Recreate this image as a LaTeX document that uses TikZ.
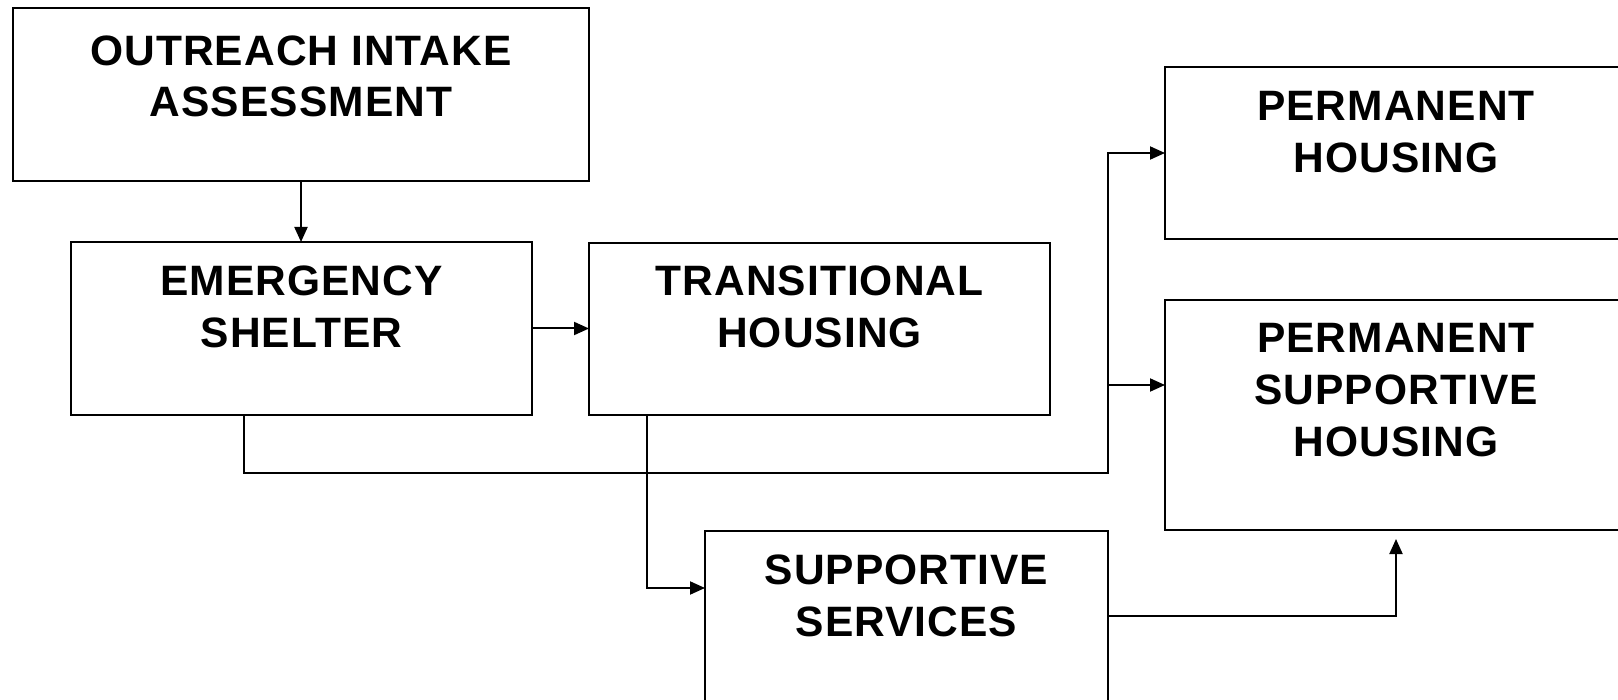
\documentclass[tikz,border=0pt]{standalone}
\usepackage{fontspec}
\setmainfont{Liberation Sans}
\newfontfamily\lblfont[LetterSpace=2.5]{Liberation Sans}
\usetikzlibrary{arrows.meta,calc}
\begin{document}
\begin{tikzpicture}[x=1pt,y=-1pt,
  box/.style={draw,line width=2pt,rectangle,inner sep=0,outer sep=0,anchor=north west},
  lbl/.style={anchor=base,inner sep=0,font=\lblfont\bfseries\fontsize{42.5}{51}\selectfont},
  conn/.style={line width=2pt},
  arr/.style={line width=2pt,-{Triangle[length=15pt,width=13pt]}}]
\useasboundingbox (0,0) rectangle (1618,700);
\clip (0,0) rectangle (1618,700);
% boxes
\node[box,minimum width=576pt,minimum height=173pt] (out) at (13,8) {};
\node[box,minimum width=461pt,minimum height=173pt] (es) at (71,242) {};
\node[box,minimum width=461pt,minimum height=172pt] (th) at (589,243) {};
\node[box,minimum width=462pt,minimum height=172pt] (ph) at (1165,67) {};
\node[box,minimum width=462pt,minimum height=230pt] (psh) at (1165,300) {};
\node[box,minimum width=403pt,minimum height=229pt] (ss) at (705,531) {};
% labels
\node[lbl] (out1) at (301,66) {OUTREACH INTAKE};
\node[lbl] (out2) at (301,117) {ASSESSMENT};
\node[lbl] (es1) at (301.5,296) {EMERGENCY};
\node[lbl] (es2) at (301.5,348) {SHELTER};
\node[lbl] (th1) at (819.5,296) {TRANSITIONAL};
\node[lbl] (th2) at (819.5,348) {HOUSING};
\node[lbl] (ph1) at (1396,121) {PERMANENT};
\node[lbl] (ph2) at (1396,173) {HOUSING};
\node[lbl] (psh1) at (1396,353) {PERMANENT};
\node[lbl] (psh2) at (1396,405) {SUPPORTIVE};
\node[lbl] (psh3) at (1396,457) {HOUSING};
\node[lbl] (ss1) at (906.5,584) {SUPPORTIVE};
\node[lbl] (ss2) at (906.5,636) {SERVICES};
% coordinates
\coordinate (bus) at (1108,473);
\coordinate (pshin) at ([yshift=30pt]psh.west);
\coordinate (ssin) at ([yshift=-57pt]ss.north west);
\coordinate (ssout) at ([yshift=-85pt]ss.north east);
\coordinate (pshbot) at ([yshift=-9pt]psh.south);
% connectors
\draw[arr] (out.south) -- (out.south |- es.north);
\draw[arr] (es.east) -- (es.east -| th.west);
\draw[arr] ([xshift=173pt]es.south west) |- (bus) |- (ph.west);
\draw[arr] (bus |- pshin) -- (pshin);
\draw[arr] ([xshift=58pt]th.south west) |- (ssin);
\draw[arr] (ssout) -| (pshbot);
\end{tikzpicture}
\end{document}
